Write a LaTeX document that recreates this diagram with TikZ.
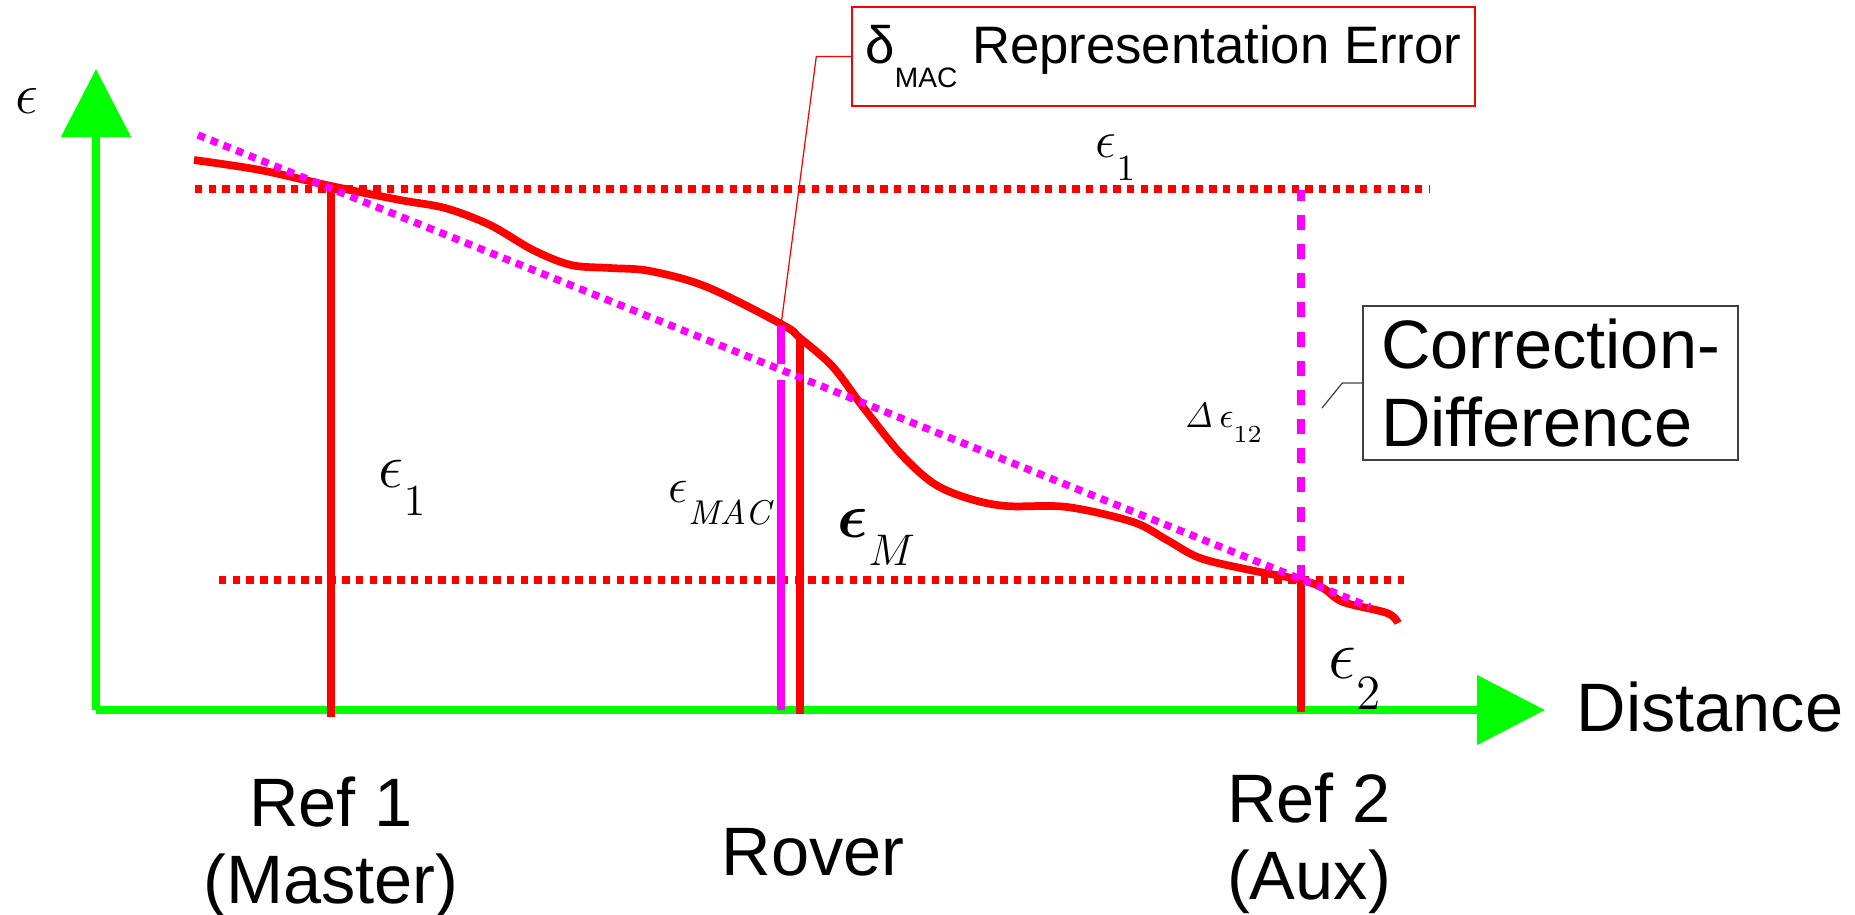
\RequirePackage{fix-cm}
\documentclass[tikz,border=0pt]{standalone}
\usepackage[no-math]{fontspec}
\setmainfont{Liberation Sans}
\usepackage{amsmath,amssymb}
\usepackage{tikz}
\usetikzlibrary{positioning,arrows.meta,calc}
\definecolor{pgreen}{RGB}{0,255,0}
\definecolor{pred}{RGB}{255,0,0}
\definecolor{pmag}{RGB}{255,0,255}
\newcommand{\lowsub}[1]{_{\raisebox{-0.3em}{$\scriptstyle #1$}}}

\begin{document}
\begin{tikzpicture}[x=0.1mm,y=-0.1mm,
                    axisline/.style={draw=pgreen,line width=2.3pt,
                                     -{Triangle[length=6.8mm,width=6.8mm]}},
                    level/.style={draw=pred,line width=2.1pt,dash pattern=on 2.1pt off 1.8pt},
                    trend/.style={draw=pmag,line width=2.1pt,dash pattern=on 2.1pt off 1.8pt},
                    corrline/.style={draw=pmag,line width=2.1pt,dash pattern=on 4.3pt off 4pt},
                    errline/.style={draw=pred,line width=2.2pt},
                    macline/.style={draw=pmag,line width=2.1pt},
                    big/.style={inner sep=0pt,align=center,font=\fontsize{19.5pt}{22pt}\selectfont},
                    sym/.style={inner sep=0pt,anchor=base west},
                    lead/.style={line width=0.35pt}]

  \useasboundingbox (0,0) rectangle (1855,914);

  \coordinate (O)     at (96,710);
  \coordinate (ytip)  at (96,69);
  \coordinate (xtip)  at (1545,710);
  \coordinate (r1top) at (331,189);
  \coordinate (r1bot) at (331,717);
  \coordinate (r2top) at (1301,580);
  \coordinate (r2bot) at (1301,712);
  \coordinate (rmtop) at (800,338);
  \coordinate (rmbot) at (800,714);
  \coordinate (mac0)  at (781,710);
  \coordinate (maclow) at (781,380);
  \coordinate (machigh) at (781,364);
  \coordinate (mactop) at (781,325);
  \coordinate (dtop)  at (1301,190);
  \coordinate (cbtip) at (1322,408);

  \draw[level] (195,189) -- (1429,189);
  \draw[level] (219,580) -- (1404,580);

  \draw[errline,line join=round] plot[smooth,tension=0.55] coordinates {
    (194,160) (260,170) (331,186) (400,200) (445,208) (490,225) (533,250)
    (571,265) (610,268) (650,271) (707,287) (783,325) (800,338) (833,367)
    (863,407) (900,453) (933,483) (967,498) (1006,506) (1067,507) (1133,522)
    (1167,540) (1200,558) (1250,570) (1301,580) (1323,588) (1343,602)
    (1387,613) (1398,623)};

  \draw[axisline] (O) -- (ytip);
  \draw[axisline] (O) -- (xtip);

  \draw[errline] (r1top) -- (r1bot);
  \draw[errline] (rmtop) -- (rmbot);
  \draw[errline] (r2top) -- (r2bot);
  \draw[macline] (mac0) -- (maclow);
  \draw[macline] (machigh) -- (mactop);
  \draw[corrline] (r2top) -- (dtop);

  \draw[trend] (198,135) -- (1370,607);

  \node[sym,font=\fontsize{16.5pt}{18pt}\selectfont] (eps)  at (15,113)   {$\epsilon$};
  \node[sym,font=\fontsize{15pt}{17pt}\selectfont]   (e1up) at (1095,157) {$\epsilon\lowsub{1}$};
  \node[sym,font=\fontsize{18pt}{20pt}\selectfont]   (e1)   at (378,487)  {$\epsilon\lowsub{1}$};
  \node[sym,font=\fontsize{14pt}{16pt}\selectfont]   (emac) at (668,502)  {$\epsilon\lowsub{\mathit{MAC}}$};
  \node[sym,font=\fontsize{18pt}{20pt}\selectfont]   (em)   at (837,537)  {$\boldsymbol{\epsilon}\lowsub{M}$};
  \node[sym,font=\fontsize{20pt}{22pt}\selectfont]   (e2)   at (1328,678) {$\epsilon\lowsub{2}$};
  \node[sym,font=\fontsize{10pt}{12pt}\selectfont]   (de12) at (1184,427) {$\mathit{\Delta}\,\epsilon\lowsub{12}$};

  \node[big,anchor=north]     (ref1)  at (331,776)  {Ref 1\\(Master)};
  \node[big,anchor=base]      (rover) at (813,875)  {Rover};
  \node[big,anchor=north]     (ref2)  at (1309,772) {Ref 2\\(Aux)};
  \node[big,anchor=base west] (dist)  at (1576,731) {Distance};

  \node[draw=pred,line width=0.4pt,minimum width=62.3mm,minimum height=9.9mm,
        inner sep=1mm,font=\fontsize{15pt}{17pt}\selectfont] (dbox) at (1163.5,56.5)
        {δ\raisebox{-0.45em}{\fontsize{8pt}{9pt}\selectfont MAC} Representation Error};
  \node[draw=black!75,line width=0.4pt,minimum width=37.5mm,minimum height=15.4mm,
        align=left,font=\fontsize{19.5pt}{22pt}\selectfont] (cbox) at (1550.5,383)
        {Correction-\\Difference};

  \draw[lead,pred] (dbox.west) -- ++(-35,0) -- (mactop);
  \draw[lead,black!75] (cbox.west) -- ++(-20,0) -- (cbtip);
\end{tikzpicture}
\end{document}
